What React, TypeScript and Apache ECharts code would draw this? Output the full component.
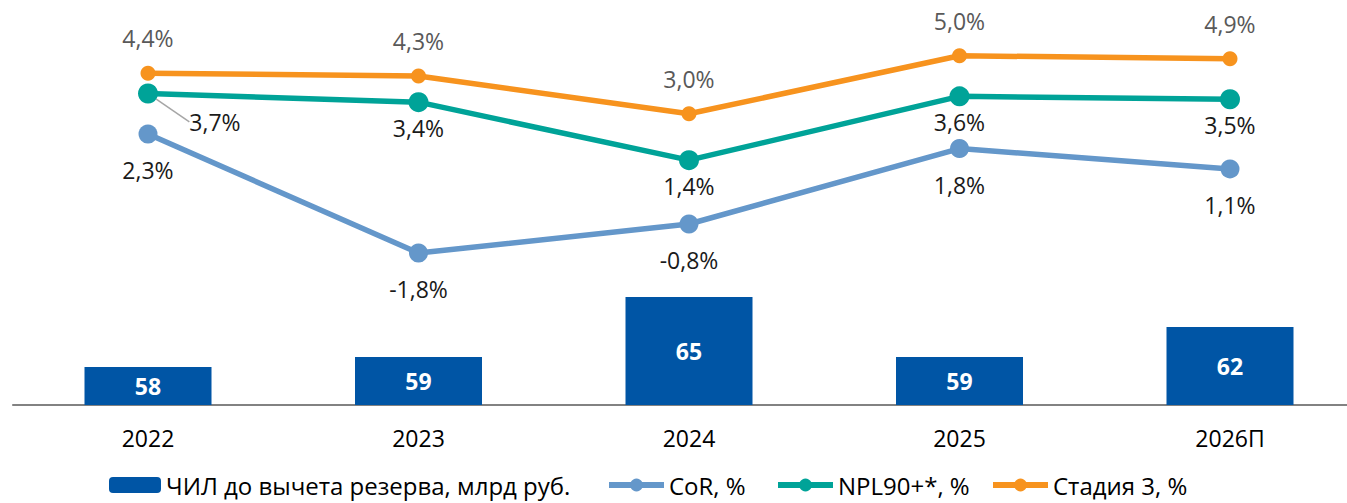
import React, { useEffect, useRef } from "react";
import * as echarts from "echarts";

const categories = ["2022", "2023", "2024", "2025", "2026П"];
const loanValues = [58, 59, 65, 59, 62];
const corValues = [2.3, -1.8, -0.8, 1.8, 1.1];
const nplValues = [3.7, 3.4, 1.4, 3.6, 3.5];
const stage3Values = [4.4, 4.3, 3.0, 5.0, 4.9];

const seriesNames = [
  "ЧИЛ до вычета резерва, млрд руб.",
  "CoR, %",
  "NPL90+*, %",
  "Стадия 3, %",
];
const legendLefts = [109, 606, 775, 990];

const FONT = "'Open Sans', 'Noto Sans', sans-serif";
const pct = (v: number) => v.toFixed(1).replace(".", ",") + "%";

export default function App() {
  const ref = useRef<HTMLDivElement>(null);
  useEffect(() => {
    if (!ref.current) return;
    const chart = echarts.init(ref.current, null, { renderer: "svg" });
    const nplData = nplValues.map((v, i) => {
      if (i === 0)
        return {
          value: v,
          labelLine: { show: true, lineStyle: { color: "#a6a6a6", width: 1.5 } },
        };
      if (i === 1) return { value: v, label: { offset: [-19, 2] } };
      if (i === 4) return { value: v, label: { offset: [32, -4] } };
      return { value: v };
    });
    chart.setOption({
      animation: false,
      textStyle: { fontFamily: FONT },
      grid: { left: 12.75, right: 0.75, top: 5, height: 400 },
      xAxis: {
        type: "category",
        data: categories,
        axisTick: { show: false },
        axisLine: { onZero: false, lineStyle: { color: "#595959", width: 1.5 } },
        axisLabel: { color: "#000", fontSize: 23, margin: 21, fontFamily: FONT },
      },
      yAxis: [
        { type: "value", min: 54.2, max: 94.2, show: false, splitLine: { show: false } },
        { type: "value", min: -7.04, max: 6.75, show: false, splitLine: { show: false } },
      ],
      legend: seriesNames.map((name, i) => ({
        left: legendLefts[i] - 5,
        top: 468,
        itemWidth: i === 0 ? 52 : 55,
        itemHeight: 16,
        lineStyle: { width: 6 },
        textStyle: { color: "#000", fontSize: 24, fontFamily: FONT },
        data: [name],
      })),
      series: [
        {
          name: seriesNames[0],
          type: "bar",
          data: loanValues,
          barWidth: 127,
          itemStyle: { color: "#0055A5" },
          label: {
            show: true,
            position: "inside",
            color: "#fff",
            fontWeight: "bold",
            fontSize: 23,
            fontFamily: FONT,
          },
        },
        {
          name: seriesNames[1],
          type: "line",
          yAxisIndex: 1,
          data: corValues,
          symbol: "circle",
          symbolSize: 19,
          lineStyle: { width: 5.5, color: "#6497CA" },
          itemStyle: { color: "#6497CA" },
          label: {
            show: true,
            position: "bottom",
            distance: 15,
            color: "#1a1a1a",
            fontSize: 23,
            fontFamily: FONT,
            formatter: (p: any) => pct(p.value),
          },
        },
        {
          name: seriesNames[2],
          type: "line",
          yAxisIndex: 1,
          data: nplData,
          symbol: "circle",
          symbolSize: 20,
          lineStyle: { width: 5.5, color: "#00A398" },
          itemStyle: { color: "#00A398" },
          label: {
            show: true,
            position: "bottom",
            distance: 4,
            color: "#1a1a1a",
            fontSize: 23,
            fontFamily: FONT,
            formatter: (p: any) => pct(p.value),
          },
          labelLayout: (params: any) =>
            params.dataIndex === 0 ? { dx: 67, dy: 3 } : {},
        },
        {
          name: seriesNames[3],
          type: "line",
          yAxisIndex: 1,
          data: stage3Values,
          symbol: "circle",
          symbolSize: 15,
          lineStyle: { width: 5.5, color: "#F7931E" },
          itemStyle: { color: "#F7931E" },
          label: {
            show: true,
            position: "top",
            distance: 16,
            color: "#595959",
            fontSize: 23,
            fontFamily: FONT,
            formatter: (p: any) => pct(p.value),
          },
        },
      ],
    });
    return () => chart.dispose();
  }, []);
  return (
    <div
      ref={ref}
      style={{ position: "fixed", left: 0, top: 0, width: 1366, height: 503, background: "#fff" }}
    />
  );
}
